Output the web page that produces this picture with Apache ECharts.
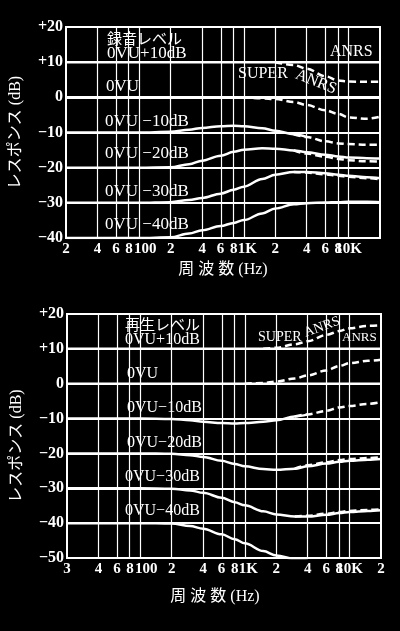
<!DOCTYPE html>
<html><head><meta charset="utf-8">
<script src="https://cdn.jsdelivr.net/npm/echarts@6/dist/echarts.min.js"></script>
<style>html,body{margin:0;padding:0;background:#000}#c{width:400px;height:631px}</style>
</head><body><div id="c"></div>
<script>
// ---- data ----
const FREQ = [20,100,200,300,400,600,800,1000,1500,2000,3000,4000,6000,8000,10000,15000,20000];

// Recording (録音レベル)
const REC_P10_ANRS  = [10,10,10,10,10,10,10,10,10,10,10,10,10,10,10,10,10];
const REC_P10_SUPER = [null,null,null,null,null,null,null,null,null,10,9.2,8.1,6.0,4.8,4.5,4.4,4.4];
const REC_0_ANRS    = [0,0,0,0,0,0,0,0,0,0,0,0,0,0,0,0,0];
const REC_0_SUPER   = [null,null,null,null,null,0,-0.05,-0.1,-0.3,-0.5,-1.3,-2.2,-3.7,-4.7,-5.7,-6.1,-5.5];
const REC_M10_ANRS  = [-10,-10,-9.8,-9.2,-8.7,-8.2,-8.1,-8.2,-8.8,-9.5,-10.5,-11.3,null,null,null,null,null];
const REC_M10_SUPER = [null,null,null,null,null,null,null,null,null,null,-10.5,-11.3,-12.5,-13.1,-13.3,-13.5,-13.5];
const REC_M20_ANRS  = [-20,-20,-19.9,-19,-18,-16.6,-15.5,-14.9,-14.5,-14.6,-15.1,-15.6,-16.3,-16.8,-17.1,-17.3,-17.4];
const REC_M20_SUPER = [null,null,null,null,null,null,null,null,null,null,-15.1,-16.0,-16.9,-17.5,-17.9,-18.2,-18.3];
const REC_M30_ANRS  = [-30,-30,-29.8,-29.2,-28.6,-27.4,-26.3,-25.4,-23.2,-22,-21.2,-21.2,-21.6,-22,-22.3,-22.7,-23];
const REC_M30_SUPER = [null,null,null,null,null,null,null,null,null,null,-21.2,-21.4,-21.9,-22.3,-22.6,-23.0,-23.3];
const REC_M40       = [-40,-40,-39.8,-38.7,-37.8,-36.6,-35.7,-34.9,-33,-31.6,-30.4,-30.1,-29.9,-29.8,-29.7,-29.7,-29.8];

// Playback (再生レベル)
const PB_P10_ANRS  = [10,10,10,10,10,10,10,10,10,10,10,10,10,10,10,10,10];
const PB_P10_SUPER = [null,null,null,null,null,null,null,null,10,10.3,11.3,12.2,14,15.1,15.9,16.6,16.8];
const PB_0_ANRS    = [0,0,0,0,0,0,0,0,0,0,0,0,0,0,0,0,0];
const PB_0_SUPER   = [null,null,null,null,null,null,null,0,0.2,0.6,1.5,2.4,3.8,5.1,5.9,6.6,6.9];
const PB_M10_ANRS  = [-10,-10,-10.1,-10.5,-10.9,-11.3,-11.4,-11.3,-10.9,-10.5,-9.4,-8.8,null,null,null,null,null];
const PB_M10_SUPER = [null,null,null,null,null,null,null,null,null,null,-9.4,-8.8,-7.8,-6.8,-6.4,-5.8,-5.3];
const PB_M20_ANRS  = [-20,-20,-20.1,-20.5,-21,-22.1,-23,-23.7,-24.5,-24.7,-24.4,-23.7,-22.9,-22.4,-22.1,-21.8,-21.6];
const PB_M20_SUPER = [null,null,null,null,null,null,null,null,null,null,-24.4,-23.4,-22.5,-21.9,-21.6,-21.3,-21.1];
const PB_M30_ANRS  = [-30,-30,-30.1,-30.6,-31.3,-32.7,-34,-34.9,-36.6,-37.5,-38.1,-38.1,-37.6,-37.1,-36.8,-36.5,-36.3];
const PB_M30_SUPER = [null,null,null,null,null,null,null,null,null,null,-38.1,-37.9,-37.3,-36.8,-36.5,-36.2,-36.0];
const PB_M40       = [-40,-40,-40.1,-40.8,-41.6,-43.2,-44.6,-45.8,-48,-49.3,-50.3,-50.8,null,null,null,null,null];

// ticks
const TOP_X_TICKS  = [20,40,60,80,100,200,400,600,800,1000,2000,4000,6000,8000,10000,20000];
const TOP_X_LABELS = ['2','4','6','8','100','2','4','6','8','1K','2','4','6','8','10K',''];
const BOT_X_TICKS  = [20,40,60,80,100,200,400,600,800,1000,2000,4000,6000,8000,10000,20000];
const BOT_X_LABELS = ['3','4','6','8','100','2','4','6','8','1K','2','4','6','8','10K','2'];
const GRID_FREQ    = [40,60,80,100,200,400,600,800,1000,2000,4000,6000,8000,10000];
const TOP_Y = [-40,20];
const BOT_Y = [-50,20];

// ---- chart ----
const SERIF = "'Liberation Serif','DejaVu Serif','Noto Sans CJK JP',serif";
const W = '#ffffff';

function pts(arr){ const o=[]; FREQ.forEach((f,i)=>{ if(arr[i]!=null) o.push([Math.log10(f),arr[i]]); }); return o; }
function ser(arr,g,dashed,extra){
  return Object.assign({type:'line',xAxisIndex:g,yAxisIndex:g,data:pts(arr),smooth:0.35,smoothMonotone:'x',
    symbol:'none',silent:true,z:3,lineStyle:{color:W,width:2.5,type:dashed?[7,4]:'solid'}},extra||{});
}
function vgrid(){
  return {silent:true,symbol:['none','none'],label:{show:false},animation:false,
    lineStyle:{color:W,width:1.2,type:'solid'},data:GRID_FREQ.map(f=>({xAxis:Math.log10(f)}))};
}
const lblBase = {color:W,fontFamily:SERIF,fontWeight:'bold',fontSize:15};
function xAxis(g,ticks,labels,gap,pad){
  return {type:'value',gridIndex:g,min:Math.log10(20),max:Math.log10(20000),
    axisLine:{show:false},axisTick:{show:false},splitLine:{show:false},
    axisLabel:Object.assign({},lblBase,{margin:4,hideOverlap:false,customValues:ticks.map(Math.log10),
      formatter:function(v){
        for(let i=0;i<ticks.length;i++){ if(Math.abs(Math.log10(ticks[i])-v)<1e-6){
          const t=labels[i]; if(t==='100') return '{a|100}'; if(t==='1K') return '{b|1K}'; return t; } }
        return '';
      },
      rich:{a:Object.assign({},lblBase,{padding:[0,0,0,12]}),b:Object.assign({},lblBase,{padding:[0,0,0,7]})}}),
    name:'周 波 数 (Hz)',nameLocation:'middle',nameGap:gap,
    nameTextStyle:{color:W,fontFamily:SERIF,fontSize:16,padding:pad}};
}
function yAxis(g,rng,pad){
  return {type:'value',gridIndex:g,min:rng[0],max:rng[1],interval:10,
    axisLine:{show:false},axisTick:{show:false},
    splitLine:{show:true,lineStyle:{color:W,width:2}},
    axisLabel:Object.assign({},lblBase,{fontSize:16,margin:3,formatter:v=>v>0?'+'+v:(v<0?'\u2212'+(-v):'0')}),
    name:'レスポンス (dB)',nameLocation:'middle',nameRotate:90,nameGap:42,
    nameTextStyle:{color:W,fontFamily:SERIF,fontSize:16,padding:pad}};
}
function txt(t,x,y,size,opt){
  opt=opt||{};
  return {type:'text',x:x,y:y,rotation:opt.rot||0,z:10,silent:true,
    style:{text:t,fill:W,font:(size)+"px "+SERIF,align:opt.align||'left',verticalAlign:'middle'}};
}

const option = {
  backgroundColor:'#000',
  animation:false,
  grid:[
    {left:65,top:27,width:315,height:211,show:true,borderColor:W,borderWidth:2,backgroundColor:'transparent'},
    {left:67,top:314,width:314,height:244,show:true,borderColor:W,borderWidth:2,backgroundColor:'transparent'}
  ],
  xAxis:[xAxis(0,TOP_X_TICKS,TOP_X_LABELS,24,[0,0,0,0]),xAxis(1,BOT_X_TICKS,BOT_X_LABELS,31,[0,18,0,0])],
  yAxis:[yAxis(0,TOP_Y,[0,0,0,0]),yAxis(1,BOT_Y,[0,20,0,0])],
  series:[
    ser(REC_P10_ANRS,0,false,{markLine:vgrid()}),
    ser(REC_P10_SUPER,0,true),
    ser(REC_0_ANRS,0,false),
    ser(REC_0_SUPER,0,true),
    ser(REC_M10_ANRS,0,false),
    ser(REC_M10_SUPER,0,true),
    ser(REC_M20_ANRS,0,false),
    ser(REC_M20_SUPER,0,true),
    ser(REC_M30_ANRS,0,false),
    ser(REC_M30_SUPER,0,true),
    ser(REC_M40,0,false),
    ser(PB_P10_ANRS,1,false,{markLine:vgrid()}),
    ser(PB_P10_SUPER,1,true),
    ser(PB_0_ANRS,1,false),
    ser(PB_0_SUPER,1,true),
    ser(PB_M10_ANRS,1,false),
    ser(PB_M10_SUPER,1,true),
    ser(PB_M20_ANRS,1,false),
    ser(PB_M20_SUPER,1,true),
    ser(PB_M30_ANRS,1,false),
    ser(PB_M30_SUPER,1,true),
    ser(PB_M40,1,false)
  ],
  graphic:[
    txt('録音レベル',107,40,15),
    txt('0VU+10dB',107,54,17),
    txt('0VU',106,87,17),
    txt('0VU \u221210dB',105,121.5,17),
    txt('0VU \u221220dB',105,154,17),
    txt('0VU \u221230dB',105,191.5,17),
    txt('0VU \u221240dB',105,225,17),
    txt('ANRS',330,51.5,16),
    txt('SUPER',238,74,16),
    txt('ANRS',316,82,16,{align:'center',rot:-0.38}),
    txt('再生レベル',125,326,15),
    txt('0VU+10dB',125,339.5,16),
    txt('0VU',127,373.5,16),
    txt('0VU\u221210dB',127,407.5,16),
    txt('0VU\u221220dB',127,442.5,16),
    txt('0VU\u221230dB',125,476.5,16),
    txt('0VU\u221240dB',125,511,16),
    txt('SUPER',258,337.5,14),
    txt('ANRS',322,327,14,{align:'center',rot:0.35}),
    txt('ANRS',342,338,13)
  ]
};
const chart = echarts.init(document.getElementById('c'),null,{renderer:'canvas'});
chart.setOption(option);
</script></body></html>
